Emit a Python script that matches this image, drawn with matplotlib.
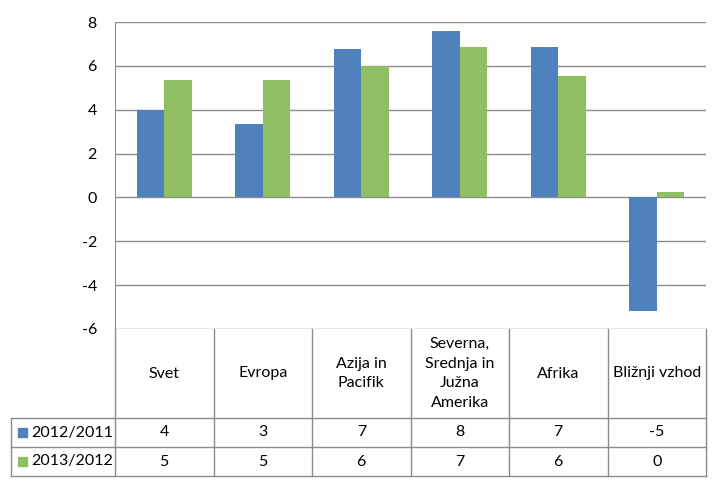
import matplotlib.pyplot as plt
import numpy as np

categories = ["Svet", "Evropa", "Azija in\nPacifik", "Severna,\nSrednja in\nJužna\nAmerika",
              "Afrika", "Bližnji vzhod"]
series_names = ["2012/2011", "2013/2012"]
vals_2012 = [4.0, 3.35, 6.75, 7.6, 6.85, -5.2]
vals_2013 = [5.35, 5.35, 6.0, 6.85, 5.55, 0.25]
table_2012 = ["4", "3", "7", "8", "7", "-5"]
table_2013 = ["5", "5", "6", "7", "6", "0"]
yticks = [8, 6, 4, 2, 0, -2, -4, -6]

BLUE = "#4f81bd"
GREEN = "#8fbf62"
GRID = "#8c8c8c"
FONT = "Lato"

W, H = 715, 484
fig = plt.figure(figsize=(W / 100, H / 100), dpi=100)

# plot area in pixels
left, right, top, bottom = 115, 706, 22, 329
ax = fig.add_axes([left / W, 1 - bottom / H, (right - left) / W, (bottom - top) / H])

x = np.arange(len(categories)) + 0.5
bw = 0.28
ax.bar(x - bw / 2, vals_2012, bw, color=BLUE, zorder=3)
ax.bar(x + bw / 2, vals_2013, bw, color=GREEN, zorder=3)

ax.set_xlim(0, len(categories))
ax.set_ylim(-6, 8)
ax.set_yticks(yticks)
ax.set_yticklabels([str(t) for t in yticks], fontsize=11.5, family=FONT)
ax.tick_params(axis="y", length=0, pad=13)
ax.set_xticks([])
for t in yticks:
    ax.axhline(t, color=GRID, lw=1, zorder=1)
for side in ["top", "right", "bottom"]:
    ax.spines[side].set_visible(False)
ax.spines["left"].set_color(GRID)

# data table below
tb_top, tb_bottom = 329, 476
tax = fig.add_axes([left / W, 1 - tb_bottom / H, (right - left) / W, (tb_bottom - tb_top) / H])
tax.set_xlim(0, len(categories))
tax.set_ylim(tb_bottom - tb_top, 0)
tax.axis("off")

unit = (right - left) / len(categories)
leg_x = (11 - left) / unit
r1, r2, r3 = 89, 118, 147

for i in range(len(categories) + 1):
    tax.plot([i, i], [0, r3], color=GRID, lw=1, clip_on=False)
tax.plot([leg_x, leg_x], [r1, r3], color=GRID, lw=1, clip_on=False)
for yy in [r1, r2, r3]:
    tax.plot([leg_x, len(categories)], [yy, yy], color=GRID, lw=1, clip_on=False)

for i, c in enumerate(categories):
    tax.text(i + 0.5, r1 / 2, c, ha="center", va="center", fontsize=11.5,
             family=FONT, linespacing=1.5)
    tax.text(i + 0.5, (r1 + r2) / 2, table_2012[i], ha="center", va="center",
             fontsize=11.5, family=FONT)
    tax.text(i + 0.5, (r2 + r3) / 2, table_2013[i], ha="center", va="center",
             fontsize=11.5, family=FONT)

for name, color, y0, y1 in [(series_names[0], BLUE, r1, r2), (series_names[1], GREEN, r2, r3)]:
    yc = (y0 + y1) / 2
    sq = 9 / unit
    tax.add_patch(plt.Rectangle((leg_x + 7 / unit, yc - 4.5), sq, 9, color=color, clip_on=False))
    tax.text(leg_x + 20 / unit, yc, name, ha="left", va="center", fontsize=11.5, family=FONT)

fig.savefig("out.png", dpi=100)
